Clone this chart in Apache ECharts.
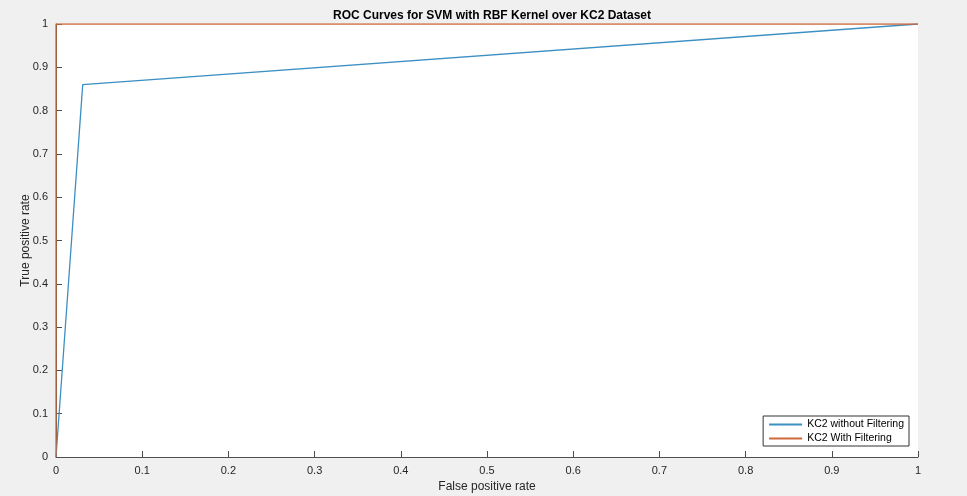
<!DOCTYPE html>
<html>
<head>
<meta charset="utf-8">
<script src="https://cdn.jsdelivr.net/npm/echarts@6/dist/echarts.min.js"></script>
<style>
  html, body { margin: 0; padding: 0; background: #f0f0f0; }
  #main { width: 967px; height: 496px; }
</style>
</head>
<body>
<div id="main"></div>
<script>
// ROC points [fpr, tpr]
var noFilterFpr = [0, 0.031, 1];
var noFilterTpr = [0, 0.86, 1];
var withFilterFpr = [0, 0, 1];
var withFilterTpr = [0, 1, 1];
var seriesNames = ['KC2 without Filtering', 'KC2 With Filtering'];

function pairs(xs, ys) {
    return xs.map(function (x, i) { return [x, ys[i]]; });
}

var chart = echarts.init(document.getElementById('main'));
var axisCommon = {
    type: 'value',
    min: 0,
    max: 1,
    interval: 0.1,
    nameLocation: 'middle',
    nameMoveOverlap: false,
    nameTextStyle: { color: '#262626', fontSize: 12, fontFamily: 'Liberation Sans' },
    axisLine: { show: true, lineStyle: { color: '#4d4d4d', width: 1 } },
    axisTick: { show: true, inside: true, length: 6, lineStyle: { color: '#4d4d4d' } },
    axisLabel: { color: '#262626', fontSize: 11, fontFamily: 'Liberation Sans' },
    splitLine: { show: false }
};

chart.setOption({
    backgroundColor: '#f0f0f0',
    animation: false,
    title: {
        text: 'ROC Curves for SVM with RBF Kernel over KC2 Dataset',
        left: 487,
        textAlign: 'center',
        top: 5,
        textStyle: { fontSize: 12, fontWeight: 'bold', color: '#000', fontFamily: 'Liberation Sans' }
    },
    grid: {
        left: 56, right: 49, top: 24, bottom: 39,
        outerBoundsMode: 'none',
        containLabel: false,
        show: true, backgroundColor: '#ffffff', borderWidth: 0
    },
    legend: {
        orient: 'vertical',
        right: 58,
        bottom: 50,
        backgroundColor: '#ffffff',
        borderColor: '#333333',
        borderWidth: 1,
        padding: [3, 5, 2, 6],
        itemGap: 3,
        itemWidth: 33,
        itemHeight: 2,
        icon: 'rect',
        textStyle: { fontSize: 10.5, color: '#000', fontFamily: 'Liberation Sans' },
        data: seriesNames
    },
    xAxis: Object.assign({}, axisCommon, { name: 'False positive rate', nameGap: 24 }),
    yAxis: Object.assign({}, axisCommon, { name: 'True positive rate', nameGap: 24 }),
    series: [
        {
            name: seriesNames[0],
            type: 'line',
            data: pairs(noFilterFpr, noFilterTpr),
            symbol: 'none',
            color: '#3b8fc2',
            lineStyle: { width: 1.3, color: '#3b8fc2' }
        },
        {
            name: seriesNames[1],
            type: 'line',
            data: pairs(withFilterFpr, withFilterTpr),
            symbol: 'none',
            color: '#d0693a',
            lineStyle: { width: 1.3, color: '#d0693a' }
        }
    ]
});
</script>
</body>
</html>
